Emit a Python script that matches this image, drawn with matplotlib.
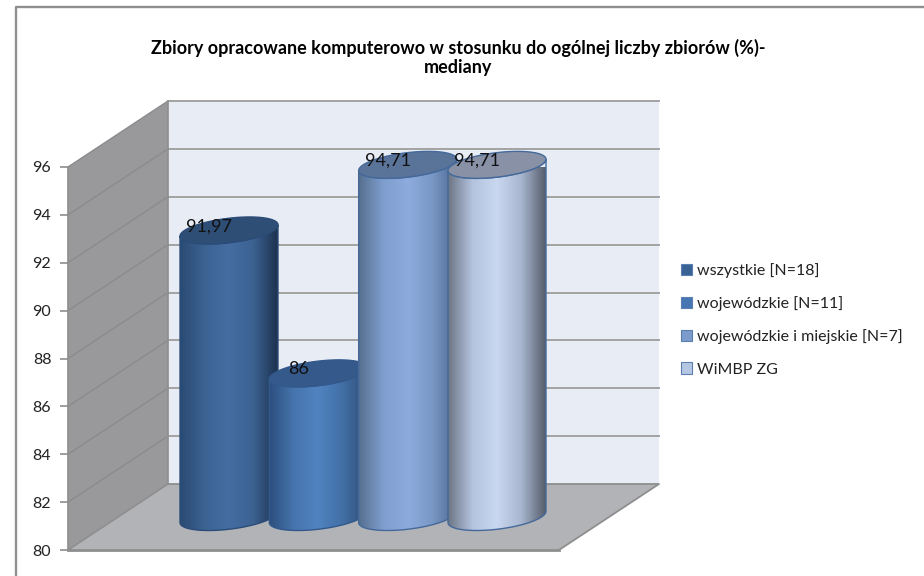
import numpy as np
import matplotlib
matplotlib.use("Agg")
import matplotlib.pyplot as plt
from matplotlib.patches import Polygon, Patch
from matplotlib.colors import LinearSegmentedColormap

# ---- data ----
title = "Zbiory opracowane komputerowo w stosunku do ogólnej liczby zbiorów (%)-\nmediany"
series = ["wszystkie [N=18]", "wojewódzkie [N=11]", "wojewódzkie i miejskie [N=7]", "WiMBP ZG"]
values = [91.97, 86, 94.71, 94.71]
labels = ["91,97", "86", "94,71", "94,71"]
yticks = [80, 82, 84, 86, 88, 90, 92, 94, 96]

# ---- styles ----
W, H = 924, 576
shades = [
    ["#2a4a73", "#3c6392", "#446da3", "#3c6291", "#1d3250"],
    ["#2c4f7e", "#4674ad", "#5083c0", "#4270a6", "#2f4f78"],
    ["#56708f", "#7f9fcf", "#8dabdc", "#7a98c6", "#4c6690"],
    ["#6d7686", "#b4c3de", "#c9d7f0", "#a9b6cf", "#565e6c"],
]
top_colors = ["#2e4e75", "#34598a", "#5a7399", "#8991a6"]
edge_colors = ["#2b4c78", "#33598c", "#44699a", "#44699a"]
legend_colors = ["#3a6395", "#4677b3", "#7c9bcd", "#b5c6e3"]
wall_c, floor_c, back_c, grid_c, edge_c = "#99999c", "#b2b3b6", "#e8ecf5", "#a3a3a3", "#8e8e8e"

plt.rcParams["font.family"] = ["Lato", "DejaVu Sans"]
fig = plt.figure(figsize=(W / 100, H / 100), dpi=100, facecolor="white")

# frame of the chart area: only left and top lines
bg = fig.add_axes([0, 0, 1, 1], zorder=0)
bg.set_xlim(0, W); bg.set_ylim(H, 0); bg.axis("off")
bg.plot([15.5, 15.5, W], [H, 6.5, 6.5], color="#8f8f8f", lw=1.7, solid_capstyle="butt")

# main axes = front plane of the 3D box
left, right, y_top, y_bot = 68, 559, 167, 550
ax = fig.add_axes([left / W, 1 - y_bot / H, (right - left) / W, (y_bot - y_top) / H], zorder=1)
px_per_x = 89.33
ax.set_xlim((left - 179) / px_per_x, (right - 179) / px_per_x)
ax.set_ylim(80, 96)
ax.patch.set_alpha(0)
px_per_y = (y_bot - y_top) / 16
dx, dy = 100 / px_per_x, 66 / px_per_y          # full depth of the box in data units
x0, x1 = ax.get_xlim()

for s in ax.spines.values():
    s.set_visible(False)
ax.set_xticks([])
ax.set_yticks(yticks)
ax.tick_params(axis="y", length=6, width=1.2, color=edge_c, labelsize=11.5, labelcolor="#222222", pad=6)

K = dict(clip_on=False)
# walls
ax.add_patch(Polygon([(x0 + dx, 80 + dy), (x1 + dx, 80 + dy), (x1 + dx, 96 + dy), (x0 + dx, 96 + dy)],
                     fc=back_c, ec="none", zorder=1, **K))
ax.add_patch(Polygon([(x0, 80), (x0 + dx, 80 + dy), (x0 + dx, 96 + dy), (x0, 96)], fc=wall_c, ec="none", zorder=1, **K))
ax.add_patch(Polygon([(x0, 80), (x1, 80), (x1 + dx, 80 + dy), (x0 + dx, 80 + dy)], fc=floor_c, ec="none", zorder=1, **K))
# gridlines
for t in yticks:
    if t > 80:
        ax.plot([x0, x0 + dx], [t, t + dy], color="#8b8b8e", lw=1.0, zorder=2, **K)
        ax.plot([x0 + dx, x1 + dx], [t + dy, t + dy], color=grid_c, lw=1.4, zorder=2, **K)
# box edges
ax.plot([x0, x0, x0 + dx, x0 + dx], [96, 80, 80 + dy, 96 + dy], color=edge_c, lw=1.2, zorder=2, **K)
ax.plot([x1, x1 + dx, x0 + dx], [80, 80 + dy, 80 + dy], color=edge_c, lw=1.3, zorder=2, **K)
ax.plot([x0, x1], [80, 80], color=edge_c, lw=2, zorder=2, **K)

# cylinders stand in the middle of the depth
ux, vx, vy = 44.5 / px_per_x, 20.5 / px_per_x, 13.5 / px_per_y
half_w = np.hypot(ux, vx)
t_r = np.arctan2(vx, ux)
ts = np.linspace(0, 2 * np.pi, 181)

def ell(cx, cy, t):
    return cx + ux * np.cos(t) + vx * np.sin(t), cy + vy * np.sin(t)

for i, (v, lab) in enumerate(zip(values, labels)):
    z = 5 + i
    cx, base, top = i + dx / 2, 80 + dy / 2, v + dy / 2
    tf = np.linspace(t_r, t_r - np.pi, 90)      # right silhouette point, through the front, to the left
    xb, yb = ell(cx, base, tf)
    xt, yt = ell(cx, top, tf)
    body = np.r_[np.c_[xt, yt], np.c_[xb, yb][::-1]]
    cmap = LinearSegmentedColormap.from_list(f"c{i}", shades[i])
    grad = np.linspace(0, 1, 200)[None, :]
    im = ax.imshow(grad, cmap=cmap, extent=[cx - half_w, cx + half_w, base - 1, top + 1],
                   aspect="auto", zorder=z, interpolation="bilinear")
    ax.add_patch(Polygon(body, fc="none", ec=edge_colors[i], lw=1.0, zorder=z + 0.1, **K))
    clip = Polygon(body, transform=ax.transData, fc="none", ec="none")
    ax.add_patch(clip)
    clip.set_clip_on(False)
    im.set_clip_path(clip)
    ex, ey = ell(cx, top, ts)
    ax.add_patch(Polygon(np.c_[ex, ey], fc=top_colors[i], ec=edge_colors[i], lw=1.0, zorder=z + 0.2, **K))
    ax.text(cx - 20 / px_per_x, top + 4 / px_per_y, lab, ha="center", va="center",
            fontsize=13, color="#111111", zorder=20, **K)

ax.set_xlim(x0, x1)
ax.set_ylim(80, 96)

# title
fig.text(458 / W, 1 - 57 / H, title, ha="center", va="center", fontsize=13, fontweight="bold",
         color="black", linespacing=1.15)

# legend
handles = [Patch(fc=c, ec="#5b7fae", lw=0.8) for c in legend_colors]
fig.legend(handles, series, loc="upper left", bbox_to_anchor=(681 / W, 1 - 263 / H), frameon=False,
           fontsize=11.5, handlelength=0.7, handleheight=0.7, handletextpad=0.28,
           labelspacing=1.14, labelcolor="#222222", borderpad=0, borderaxespad=0)

fig.savefig("out.png", dpi=100, facecolor="white")
